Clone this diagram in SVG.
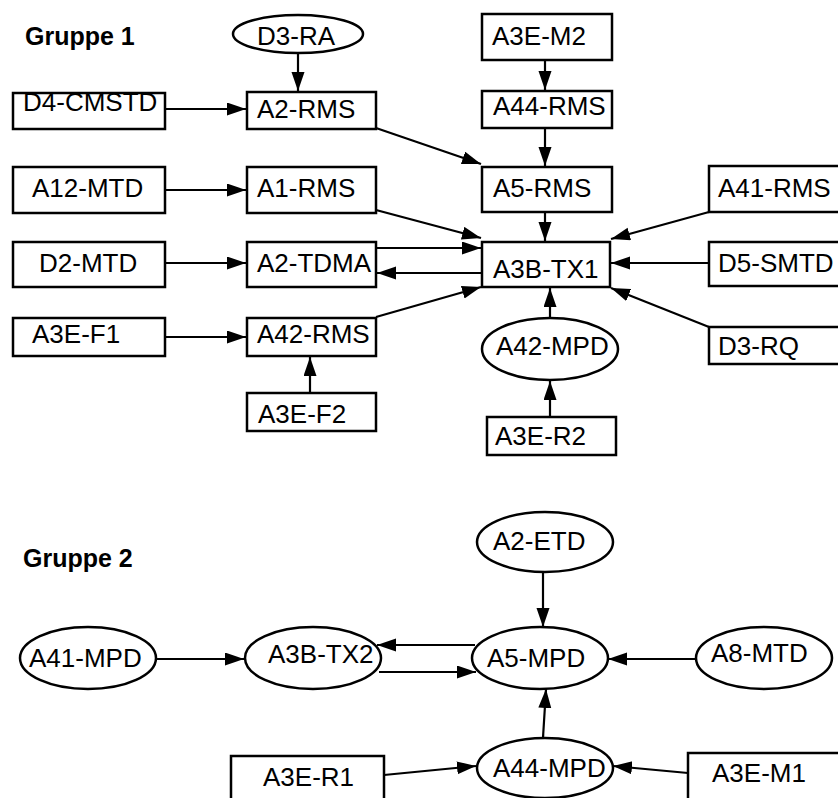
<svg xmlns="http://www.w3.org/2000/svg" width="838" height="798" viewBox="0 0 838 798">
<style>
.n{fill:#fff;stroke:#000;stroke-width:2.5}
.t{font-family:"Liberation Sans",Arial,sans-serif;font-size:26px;fill:#000}
.h{font-family:"Liberation Sans",Arial,sans-serif;font-size:25px;font-weight:bold;fill:#000}
.e{stroke:#000;stroke-width:2.2;fill:none;marker-end:url(#ah)}
</style>
<defs>
<marker id="ah" markerUnits="userSpaceOnUse" markerWidth="20" markerHeight="14" refX="19" refY="6.5" orient="auto">
<path d="M0,0 L19,6.5 L0,13 z" fill="#000"/>
</marker>
</defs>
<rect width="838" height="798" fill="#fff"/>
<text class="h" x="25" y="45">Gruppe 1</text>
<text class="h" x="23" y="567">Gruppe 2</text>
<g id="edges">
<line class="e" x1="298" y1="53" x2="298" y2="91"/>
<line class="e" x1="165" y1="109" x2="246" y2="109"/>
<line class="e" x1="165" y1="190" x2="246" y2="190"/>
<line class="e" x1="376" y1="128" x2="481" y2="164"/>
<line class="e" x1="545" y1="60" x2="545" y2="90"/>
<line class="e" x1="545" y1="128" x2="545" y2="166"/>
<line class="e" x1="545" y1="212" x2="545" y2="241"/>
<line class="e" x1="376" y1="210" x2="481" y2="238"/>
<line class="e" x1="709" y1="212" x2="611" y2="239"/>
<line class="e" x1="376" y1="248" x2="481" y2="248"/>
<line class="e" x1="482" y1="273" x2="377" y2="273"/>
<line class="e" x1="165" y1="263" x2="246" y2="263"/>
<line class="e" x1="709" y1="263" x2="611" y2="263"/>
<line class="e" x1="376" y1="317" x2="481" y2="287"/>
<line class="e" x1="165" y1="337" x2="246" y2="337"/>
<line class="e" x1="310" y1="393" x2="310" y2="357"/>
<line class="e" x1="550" y1="318" x2="550" y2="288"/>
<line class="e" x1="709" y1="327" x2="611" y2="288"/>
<line class="e" x1="550" y1="417" x2="550" y2="381"/>
<line class="e" x1="156" y1="659" x2="244" y2="659"/>
<line class="e" x1="475" y1="645" x2="377" y2="645"/>
<line class="e" x1="379" y1="672" x2="476" y2="672"/>
<line class="e" x1="543" y1="572" x2="543" y2="627"/>
<line class="e" x1="696" y1="659" x2="608" y2="659"/>
<line class="e" x1="543" y1="738" x2="546" y2="689"/>
<line class="e" x1="384" y1="775" x2="476" y2="766"/>
<line class="e" x1="688" y1="773" x2="613" y2="766"/>
</g>
<g id="D3-RA"><ellipse class="n" cx="298" cy="34" rx="65" ry="19"/><text class="t" x="257" y="45">D3-RA</text></g>
<g id="D4-CMSTD"><rect class="n" x="13" y="93" width="152" height="36"/><text class="t" x="23" y="111">D4-CMSTD</text></g>
<g id="A2-RMS"><rect class="n" x="247" y="92" width="129" height="37"/><text class="t" x="257" y="118">A2-RMS</text></g>
<g id="A12-MTD"><rect class="n" x="13" y="167" width="152" height="46"/><text class="t" x="32" y="197">A12-MTD</text></g>
<g id="A1-RMS"><rect class="n" x="247" y="167" width="129" height="46"/><text class="t" x="257" y="197">A1-RMS</text></g>
<g id="A3E-M2"><rect class="n" x="482" y="14" width="130" height="46"/><text class="t" x="492" y="45">A3E-M2</text></g>
<g id="A44-RMS"><rect class="n" x="482" y="91" width="130" height="37"/><text class="t" x="493" y="115">A44-RMS</text></g>
<g id="A5-RMS"><rect class="n" x="482" y="167" width="130" height="45"/><text class="t" x="493" y="197">A5-RMS</text></g>
<g id="A41-RMS"><rect class="n" x="709" y="166" width="131" height="46"/><text class="t" x="718" y="197">A41-RMS</text></g>
<g id="D2-MTD"><rect class="n" x="13" y="242" width="152" height="45"/><text class="t" x="39" y="272">D2-MTD</text></g>
<g id="A2-TDMA"><rect class="n" x="247" y="242" width="129" height="45"/><text class="t" x="257" y="272">A2-TDMA</text></g>
<g id="A3B-TX1"><rect class="n" x="482" y="242" width="128" height="45"/><text class="t" x="493" y="278">A3B-TX1</text></g>
<g id="D5-SMTD"><rect class="n" x="709" y="242" width="131" height="44"/><text class="t" x="718" y="272">D5-SMTD</text></g>
<g id="A3E-F1"><rect class="n" x="13" y="318" width="152" height="38"/><text class="t" x="32" y="343">A3E-F1</text></g>
<g id="A42-RMS"><rect class="n" x="247" y="318" width="129" height="38"/><text class="t" x="257" y="343">A42-RMS</text></g>
<g id="D3-RQ"><rect class="n" x="709" y="327" width="131" height="37"/><text class="t" x="718" y="355">D3-RQ</text></g>
<g id="A42-MPD"><ellipse class="n" cx="550" cy="349" rx="68" ry="31"/><text class="t" x="496" y="355">A42-MPD</text></g>
<g id="A3E-F2"><rect class="n" x="247" y="393" width="129" height="38"/><text class="t" x="258" y="423">A3E-F2</text></g>
<g id="A3E-R2"><rect class="n" x="487" y="417" width="129" height="38"/><text class="t" x="495" y="445">A3E-R2</text></g>
<g id="A2-ETD"><ellipse class="n" cx="545" cy="542" rx="68" ry="30"/><text class="t" x="493" y="550">A2-ETD</text></g>
<g id="A41-MPD"><ellipse class="n" cx="88" cy="658" rx="68" ry="31"/><text class="t" x="29" y="667">A41-MPD</text></g>
<g id="A3B-TX2"><ellipse class="n" cx="313" cy="658" rx="68" ry="31"/><text class="t" x="268" y="663">A3B-TX2</text></g>
<g id="A5-MPD"><ellipse class="n" cx="540" cy="658" rx="68" ry="31"/><text class="t" x="487" y="667">A5-MPD</text></g>
<g id="A8-MTD"><ellipse class="n" cx="764" cy="658" rx="68" ry="31"/><text class="t" x="711" y="662">A8-MTD</text></g>
<g id="A44-MPD"><ellipse class="n" cx="545" cy="768" rx="68" ry="30"/><text class="t" x="493" y="777">A44-MPD</text></g>
<g id="A3E-R1"><rect class="n" x="231" y="756" width="153" height="50"/><text class="t" x="263" y="786">A3E-R1</text></g>
<g id="A3E-M1"><rect class="n" x="688" y="753" width="152" height="50"/><text class="t" x="712" y="782">A3E-M1</text></g>
</svg>
